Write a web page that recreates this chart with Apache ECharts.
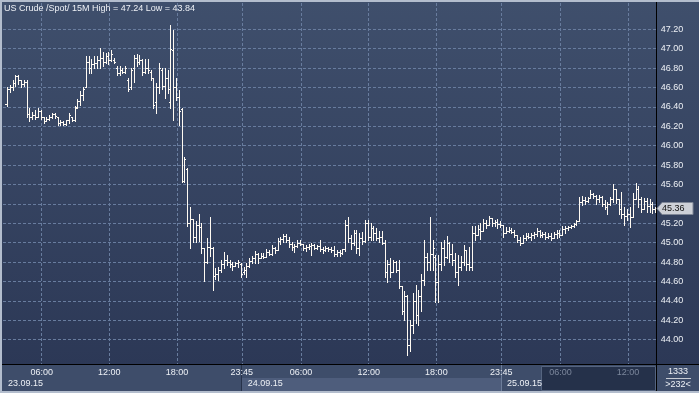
<!DOCTYPE html>
<html><head><meta charset="utf-8">
<script src="https://cdn.jsdelivr.net/npm/echarts@6/dist/echarts.min.js"></script>
<style>html,body{margin:0;padding:0;background:#3d4c69;overflow:hidden}#c{width:699px;height:393px}</style>
</head><body><div id="c"></div>
<script>
const instrument = 'US Crude /Spot/ 15M';
const totalBars = 1333;
const firstBarUTC = [2015, 8, 23, 2, 45];
const stepMinutes = 15;
const sessionGap = ['00:00', '00:15', '00:30', '00:45'];
const gridTimes = ['06:00', '12:00', '18:00', '23:45'];
const yTickMin = 44.0, yTickMax = 47.2, yTickStep = 0.2;
const yMin = 43.7495, yMax = 47.4711;

const opens = [46.41,46.43,46.58,46.60,46.65,46.72,46.68,46.64,46.66,46.33,46.30,46.32,46.30,46.36,46.30,46.25,46.28,46.30,46.33,46.30,
46.23,46.24,46.22,46.26,46.30,46.27,46.40,46.46,46.52,46.60,46.86,46.80,46.84,46.85,46.88,46.90,46.86,46.92,46.88,46.88,
46.80,46.75,46.78,46.76,46.68,46.60,46.80,46.90,46.86,46.88,46.76,46.80,46.76,46.70,46.45,46.60,46.78,46.62,46.70,46.45,
46.99,46.60,46.50,46.38,45.64,45.76,45.20,45.24,45.06,45.18,45.16,44.95,44.80,44.96,44.95,44.66,44.68,44.72,44.78,44.82,
44.80,44.78,44.76,44.79,44.78,44.70,44.72,44.76,44.81,44.84,44.88,44.84,44.86,44.85,44.90,44.88,44.95,44.92,45.02,45.04,
45.07,45.03,44.99,44.96,44.97,45.00,44.99,44.95,44.96,44.97,44.98,44.95,44.97,44.94,44.92,44.95,44.93,44.92,44.88,44.90,
44.89,44.93,45.18,45.05,45.00,45.10,44.95,45.05,45.02,45.20,45.06,45.15,45.10,45.05,45.06,45.00,44.70,44.78,44.70,44.80,
44.72,44.55,44.30,44.45,43.95,44.15,44.40,44.25,44.45,44.62,44.85,44.80,44.88,44.85,44.60,44.78,44.95,44.85,45.00,44.88,
44.82,44.70,44.75,44.80,44.92,44.78,44.75,45.10,45.08,45.14,45.12,45.20,45.18,45.25,45.20,45.21,45.19,45.18,45.10,45.12,
45.13,45.11,45.08,45.03,45.00,45.05,45.07,45.06,45.08,45.09,45.12,45.08,45.09,45.06,45.07,45.05,45.09,45.10,45.08,45.14,
45.15,45.16,45.17,45.19,45.22,45.42,45.44,45.43,45.46,45.50,45.48,45.45,45.47,45.40,45.37,45.40,45.45,45.55,45.45,45.35,
45.30,45.28,45.30,45.27,45.45,45.55,45.45,45.35,45.43,45.38,45.40,45.35];
const highs = [46.44,46.60,46.63,46.68,46.73,46.73,46.68,46.68,46.68,46.39,46.35,46.37,46.39,46.37,46.30,46.30,46.32,46.34,46.34,46.30,
46.27,46.25,46.27,46.34,46.30,46.41,46.48,46.56,46.60,46.92,46.92,46.89,46.92,46.92,47.01,46.97,46.96,46.97,46.99,46.90,
46.82,46.82,46.80,46.82,46.70,46.80,46.94,46.95,46.94,46.89,46.89,46.89,46.78,46.70,46.65,46.85,46.80,46.80,46.78,47.24,
47.19,46.70,46.57,46.39,45.88,45.77,45.37,45.24,45.22,45.30,45.20,44.95,45.05,45.27,44.96,44.74,44.75,44.82,44.90,44.87,
44.82,44.80,44.80,44.82,44.79,44.75,44.79,44.84,44.86,44.91,44.89,44.89,44.89,44.93,44.92,44.98,44.96,45.05,45.06,45.09,
45.09,45.06,45.01,44.99,45.03,45.03,44.99,44.98,44.99,45.00,44.99,44.98,45.03,44.96,44.97,44.96,44.96,44.97,44.92,44.92,
44.94,45.23,45.27,45.08,45.13,45.13,45.10,45.11,45.23,45.23,45.20,45.17,45.15,45.12,45.12,45.03,44.82,44.84,44.82,44.81,
44.82,44.55,44.50,44.46,44.20,44.48,44.56,44.51,44.68,45.03,44.89,45.27,45.03,44.87,44.87,45.01,45.03,45.07,45.01,44.99,
44.89,44.87,44.86,44.98,44.92,44.96,45.17,45.17,45.18,45.20,45.24,45.23,45.28,45.25,45.23,45.24,45.22,45.18,45.16,45.16,
45.15,45.13,45.08,45.06,45.08,45.10,45.10,45.10,45.11,45.15,45.13,45.11,45.11,45.10,45.10,45.11,45.13,45.13,45.17,45.17,
45.17,45.18,45.20,45.23,45.47,45.48,45.47,45.47,45.54,45.51,45.49,45.49,45.48,45.44,45.42,45.47,45.61,45.55,45.45,45.52,
45.37,45.35,45.37,45.51,45.62,45.58,45.47,45.46,45.46,45.45,45.42,45.37];
const lows = [46.40,46.41,46.55,46.57,46.62,46.64,46.60,46.62,46.30,46.25,46.28,46.28,46.30,46.28,46.23,46.25,46.27,46.29,46.29,46.21,
46.21,46.21,46.21,46.23,46.25,46.25,46.39,46.42,46.47,46.60,46.75,46.75,46.80,46.80,46.80,46.82,46.85,46.84,46.87,46.85,
46.73,46.73,46.75,46.75,46.56,46.58,46.66,46.82,46.84,46.73,46.75,46.75,46.68,46.39,46.34,46.54,46.58,46.49,46.54,46.39,
46.27,46.47,46.21,45.63,45.63,45.17,44.95,45.01,45.01,45.02,44.89,44.61,44.79,44.86,44.51,44.63,44.62,44.70,44.74,44.77,
44.75,44.72,44.76,44.75,44.65,44.68,44.65,44.75,44.79,44.79,44.79,44.84,44.84,44.85,44.87,44.87,44.89,44.92,44.99,45.01,
45.01,44.96,44.92,44.90,44.96,44.98,44.92,44.91,44.93,44.87,44.93,44.93,44.91,44.89,44.91,44.91,44.90,44.86,44.86,44.86,
44.88,44.91,45.01,44.93,44.98,44.89,44.87,44.99,45.01,45.03,45.03,45.03,45.03,45.01,44.99,44.65,44.60,44.65,44.70,44.70,
44.53,44.27,44.20,43.84,43.88,44.07,44.17,44.15,44.30,44.56,44.72,44.72,44.72,44.39,44.39,44.72,44.77,44.84,44.80,44.77,
44.65,44.56,44.72,44.77,44.72,44.72,44.72,45.03,45.08,45.04,45.12,45.15,45.18,45.17,45.17,45.15,45.16,45.06,45.10,45.11,
45.10,45.06,45.01,44.98,45.00,45.03,45.05,45.03,45.05,45.07,45.06,45.06,45.04,45.05,45.03,45.05,45.05,45.06,45.08,45.10,
45.13,45.15,45.16,45.18,45.22,45.39,45.40,45.42,45.46,45.46,45.40,45.42,45.38,45.35,45.30,45.39,45.42,45.41,45.30,45.25,
45.18,45.23,45.16,45.27,45.45,45.37,45.32,45.35,45.32,45.32,45.31,45.32];
const closes = [46.43,46.58,46.60,46.65,46.72,46.68,46.64,46.66,46.33,46.30,46.32,46.30,46.36,46.30,46.25,46.28,46.30,46.33,46.31,46.23,
46.24,46.22,46.26,46.32,46.27,46.39,46.46,46.52,46.58,46.86,46.80,46.84,46.85,46.88,46.90,46.86,46.92,46.88,46.95,46.86,
46.75,46.78,46.76,46.80,46.58,46.78,46.90,46.86,46.88,46.76,46.80,46.78,46.70,46.42,46.60,46.80,46.62,46.70,46.58,47.00,
46.60,46.50,46.36,45.64,45.86,45.20,45.24,45.06,45.18,45.16,44.95,44.80,44.96,44.95,44.66,44.68,44.72,44.78,44.82,44.80,
44.78,44.76,44.79,44.80,44.68,44.72,44.76,44.81,44.84,44.88,44.84,44.86,44.85,44.90,44.88,44.95,44.92,45.02,45.04,45.07,
45.03,44.99,44.96,44.97,45.00,44.99,44.95,44.96,44.97,44.98,44.95,44.97,44.94,44.92,44.95,44.93,44.92,44.88,44.90,44.89,
44.93,45.18,45.05,45.00,45.10,44.95,45.05,45.02,45.20,45.06,45.15,45.10,45.05,45.06,45.00,44.70,44.78,44.70,44.80,44.72,
44.55,44.30,44.45,43.95,44.15,44.40,44.25,44.45,44.62,44.85,44.80,44.88,44.95,44.60,44.78,44.95,44.85,45.00,44.88,44.82,
44.70,44.75,44.80,44.92,44.78,44.75,45.10,45.08,45.14,45.12,45.20,45.18,45.25,45.20,45.21,45.19,45.18,45.10,45.12,45.13,
45.11,45.08,45.03,45.00,45.05,45.07,45.06,45.08,45.09,45.12,45.08,45.09,45.06,45.07,45.05,45.09,45.10,45.08,45.14,45.15,
45.16,45.17,45.19,45.22,45.42,45.44,45.43,45.46,45.50,45.48,45.45,45.47,45.40,45.37,45.40,45.45,45.55,45.45,45.35,45.30,
45.28,45.30,45.27,45.45,45.55,45.45,45.35,45.43,45.38,45.40,45.35,45.36];

function pad(n) { return (n < 10 ? '0' : '') + n; }
const categories = [];
(function () {
  let t = Date.UTC.apply(null, firstBarUTC);
  while (categories.length < opens.length) {
    const d = new Date(t);
    const hm = pad(d.getUTCHours()) + ':' + pad(d.getUTCMinutes());
    if (sessionGap.indexOf(hm) < 0) {
      categories.push(pad(d.getUTCDate()) + '.' + pad(d.getUTCMonth() + 1) + '.' + String(d.getUTCFullYear()).slice(2) + ' ' + hm);
    }
    t += stepMinutes * 60000;
  }
})();
const timeOf = v => v.slice(9);
const dateOf = v => v.slice(0, 8);
const lastDate = dateOf(categories[categories.length - 1]);
const last = closes[closes.length - 1];
const isGridTime = (i, v) => gridTimes.indexOf(timeOf(v)) >= 0;
const isDayStart = (i, v) => i === 0 || dateOf(categories[i - 1]) !== dateOf(v);

const barColor = '#fffaf2';
const font = 'Liberation Sans';
const gridLine = { color: '#687c9e', width: 1, type: [3, 2] };

const chart = echarts.init(document.getElementById('c'), null, { renderer: 'canvas' });
const option = {
  animation: false,
  backgroundColor: { type: 'linear', x: 0, y: 0, x2: 0, y2: 1, colorStops: [
    { offset: 0, color: '#3f4f6c' }, { offset: 0.93, color: '#2c3856' }, { offset: 1, color: '#2c3856' }] },
  textStyle: { fontFamily: font },
  grid: [
    { left: 5.06, top: 3, width: 651.2, height: 361 },
    { left: 3, top: 29.3, width: 653.7, height: 310.4 }
  ],
  xAxis: [
    { type: 'category', gridIndex: 0, data: categories, boundaryGap: false,
      axisLine: { show: false }, axisTick: { show: false },
      axisLabel: { interval: isGridTime, formatter: v => timeOf(v), fontSize: 9, margin: 4,
        color: (v) => dateOf(v) === lastDate && timeOf(v) !== '23:45' ? '#7c879c' : '#eef1f6' },
      splitLine: { show: true, interval: isGridTime, lineStyle: gridLine } },
    { type: 'category', gridIndex: 0, data: categories, boundaryGap: false, position: 'bottom', offset: 11,
      axisLine: { show: false }, axisTick: { show: false }, splitLine: { show: false },
      axisLabel: { interval: isDayStart, formatter: v => dateOf(v), fontSize: 9, margin: 4, align: 'left',
        padding: [0, 0, 0, 3], color: '#eef1f6' } },
    { type: 'value', gridIndex: 1, show: false, min: 0, max: 1 }
  ],
  yAxis: [
    { type: 'value', gridIndex: 0, min: yMin, max: yMax, show: false },
    { type: 'value', gridIndex: 1, position: 'right', min: yTickMin, max: yTickMax, interval: yTickStep,
      axisLine: { show: false }, axisTick: { show: false },
      axisLabel: { formatter: v => (Math.abs(v - last) < 0.07 ? '' : v.toFixed(2)), fontSize: 9, margin: 4, color: '#eef1f6' },
      splitLine: { show: true, lineStyle: gridLine } }
  ],
  series: [{
    type: 'custom', xAxisIndex: 0, yAxisIndex: 0, clip: true,
    data: opens.map((o, i) => [i, o, highs[i], lows[i], closes[i]]),
    encode: { x: 0, y: [1, 2, 3, 4] },
    renderItem: function (params, api) {
      const i = api.value(0);
      const x = Math.round(api.coord([i, api.value(1)])[0]) - 1;
      const yo = Math.round(api.coord([i, api.value(1)])[1]);
      const yh = Math.round(api.coord([i, api.value(2)])[1]);
      const yl = Math.round(api.coord([i, api.value(3)])[1]);
      const yc = Math.round(api.coord([i, api.value(4)])[1]);
      const st = { fill: barColor };
      return { type: 'group', children: [
        { type: 'rect', shape: { x: x, y: yh, width: 1, height: Math.max(1, yl - yh + 1) }, style: st },
        { type: 'rect', shape: { x: x - 1, y: yo, width: 1, height: 1 }, style: st },
        { type: 'rect', shape: { x: x + 1, y: yc, width: 1, height: 1 }, style: st }
      ] };
    }
  }]
};
chart.setOption(option);

const hi = Math.max.apply(null, highs), lo = Math.min.apply(null, lows);
const yTop = chart.convertToPixel({ yAxisIndex: 0 }, yTickMax);
const yBot = chart.convertToPixel({ yAxisIndex: 0 }, yTickMin);
const yLast = Math.round(chart.convertToPixel({ yAxisIndex: 0 }, last)) + 0.5;
const light = '#b3bdcd';
chart.setOption({
  grid: [{}, { top: yTop, height: yBot - yTop }],
  graphic: [
    { type: 'rect', z: -5, shape: { x: 2, y: 365, width: 697, height: 26 }, style: { fill: '#3e4d6a' } },
    { type: 'rect', z: -4, shape: { x: 242, y: 378, width: 259, height: 13 }, style: { fill: '#4e5d7c' } },
    { type: 'rect', z: -4, shape: { x: 241, y: 365, width: 1, height: 26 }, style: { fill: '#27324a' } },
    { type: 'rect', z: -4, shape: { x: 501, y: 365, width: 40, height: 26 }, style: { fill: '#3e4d6a' } },
    { type: 'rect', z: -4, shape: { x: 501, y: 365, width: 1, height: 26 }, style: { fill: '#6d7d9a' } },
    { type: 'rect', z: -4, shape: { x: 541.5, y: 366.5, width: 114, height: 24 }, style: { fill: '#25314a', stroke: '#55647f', lineWidth: 1 } },
    { type: 'rect', z: 5, shape: { x: 0, y: 0, width: 699, height: 2 }, style: { fill: light } },
    { type: 'rect', z: 5, shape: { x: 0, y: 0, width: 2, height: 393 }, style: { fill: light } },
    { type: 'rect', z: 5, shape: { x: 0, y: 391, width: 699, height: 2 }, style: { fill: light } },
    { type: 'rect', z: 5, shape: { x: 2, y: 364, width: 697, height: 1 }, style: { fill: '#000' } },
    { type: 'rect', z: 5, shape: { x: 656, y: 2, width: 1, height: 389 }, style: { fill: '#000' } },
    { type: 'text', z: 6, x: 4, y: 4, style: { text: instrument + ' High = ' + hi.toFixed(2) + ' Low = ' + lo.toFixed(2),
      font: '9px "' + font + '"', fill: '#eef1f6' } },
    { type: 'text', z: 6, x: 678, y: 372, style: { text: String(totalBars), font: '9px "' + font + '"', fill: '#eef1f6', align: 'center', verticalAlign: 'middle' } },
    { type: 'rect', z: 6, shape: { x: 666, y: 378, width: 25, height: 1 }, style: { fill: '#c8ccd4' } },
    { type: 'text', z: 6, x: 678, y: 385, style: { text: '>' + opens.length + '<', font: '9px "' + font + '"', fill: '#eef1f6', align: 'center', verticalAlign: 'middle' } },
    { type: 'polygon', z: 20, shape: { points: [[657, yLast], [662, yLast - 6], [693, yLast - 6], [693, yLast + 6], [662, yLast + 6]] },
      style: { fill: '#cdd0d7', stroke: '#7e8696', lineWidth: 1 } },
    { type: 'text', z: 21, x: 662, y: yLast, style: { text: last.toFixed(2), font: '9px "' + font + '"', fill: '#111', verticalAlign: 'middle' } }
  ]
});
</script></body></html>
